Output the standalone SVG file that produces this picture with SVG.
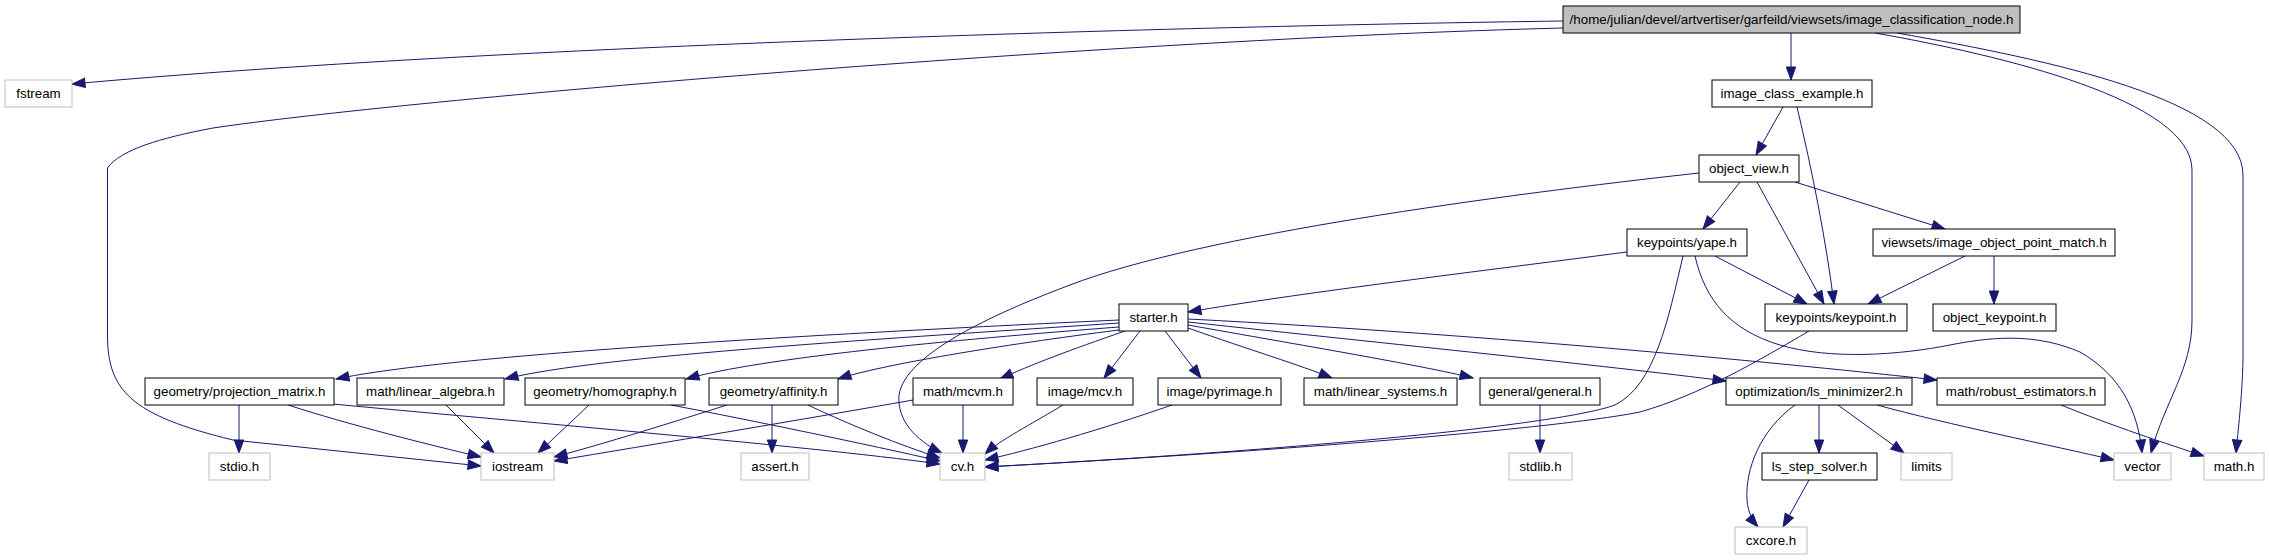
<svg xmlns="http://www.w3.org/2000/svg" width="2269" height="560" viewBox="0 0 2269 560">
<style>
.n rect{fill:#fff;stroke:#000;stroke-width:1}
.x rect{fill:#fff;stroke:#bfbfbf;stroke-width:1}
.m rect{fill:#bfbfbf;stroke:#000;stroke-width:1}
text{font-family:"Liberation Sans",Arial,Helvetica,sans-serif;font-size:13.33px;fill:#000;text-anchor:middle}
.e path{fill:none;stroke:#191970;stroke-width:1;marker-end:url(#a)}
</style>
<defs>
<marker id="a" markerUnits="userSpaceOnUse" markerWidth="14" markerHeight="10" refX="13" refY="4.7" orient="auto" overflow="visible">
<path d="M0,0 L13,4.7 L0,9.4 z" fill="#191970" stroke="#191970" stroke-width="1"/>
</marker>
</defs>
<rect width="2269" height="560" fill="#fff"/>
<g class="e" id="edges">
<path d="M1563,21 C1200,26 500,45 72,84"/>
<path d="M1563,28 C1100,40 400,100 213,128 C160,138 120,150 107.5,168 L107.5,335 C107.5,390 130,415 233,440 L481,466"/>
<path d="M1791,33 L1791,80"/>
<path d="M1875,33 C2000,55 2192,100 2192,170 L2192,320 C2192,370 2165,400 2151,453"/>
<path d="M1897,33 C2050,60 2243,100 2243,175 L2243,360 C2242,400 2238,430 2236,453"/>
<path d="M1783,107 L1756,155"/>
<path d="M1797,107 C1812,170 1826,240 1834,304"/>
<path d="M1699,173 C1500,195 1200,235 1070,285 C990,315 905,355 899,395 C897,420 915,440 942,453"/>
<path d="M1740,182 L1703,229"/>
<path d="M1757,182 L1824,304"/>
<path d="M1795,182 L1945,229"/>
<path d="M1627,252 C1450,275 1300,293 1188,312"/>
<path d="M1715,256 L1807,304"/>
<path d="M1683,256 C1668,320 1655,385 1615,405 C1560,425 1300,450 985,467"/>
<path d="M1695,256 C1705,300 1730,330 1780,345 C1830,360 1900,355 1950,345 C2000,335 2040,335 2080,352 C2120,375 2138,410 2142,453"/>
<path d="M1965,256 L1868,304"/>
<path d="M1994,256 L1994,304"/>
<path d="M1809,331 C1760,360 1700,395 1640,412 C1560,428 1300,450 985,467"/>
<path d="M1119,320 C800,335 450,355 336,379"/>
<path d="M1119,323 C900,338 600,355 505,379"/>
<path d="M1119,327 C950,340 760,358 686,379"/>
<path d="M1119,330 C1000,345 880,365 838,379"/>
<path d="M1125,331 C1070,350 1030,365 1000,379"/>
<path d="M1140,331 L1104,378"/>
<path d="M1165,331 L1201,378"/>
<path d="M1188,328 C1250,350 1300,365 1332,378"/>
<path d="M1188,325 C1300,345 1420,365 1473,378"/>
<path d="M1188,322 C1400,345 1600,365 1726,381"/>
<path d="M1188,319 C1500,335 1800,365 1937,380"/>
<path d="M239,405 L239,453"/>
<path d="M288,405 C350,425 430,445 481,457"/>
<path d="M333,404 C500,420 800,445 940,464"/>
<path d="M446,405 L494,453"/>
<path d="M589,405 L538,453"/>
<path d="M671,405 C750,420 870,445 940,461"/>
<path d="M727,405 C680,420 600,445 554,457"/>
<path d="M772,405 L772,453"/>
<path d="M808,405 C850,425 900,445 940,458"/>
<path d="M913,400 C800,420 650,445 554,461"/>
<path d="M963,405 L963,453"/>
<path d="M1063,405 C1030,425 1000,440 985,454"/>
<path d="M1172,405 C1100,430 1030,450 985,460"/>
<path d="M1540,405 L1540,453"/>
<path d="M1795,405 C1760,430 1745,470 1747,500 C1748,512 1752,520 1758,527"/>
<path d="M1819,405 L1819,453"/>
<path d="M1838,405 L1904,453"/>
<path d="M1877,405 C1950,425 2050,445 2114,460"/>
<path d="M2061,405 C2110,425 2170,445 2204,456"/>
<path d="M1809,480 L1783,527"/>
</g>
<g id="node_main" class="m"><rect x="1563" y="6" width="457" height="27"/><text x="1791.5" y="24">/home/julian/devel/artvertiser/garfeild/viewsets/image_classification_node.h</text></g>
<g id="node_fstream" class="x"><rect x="5" y="80" width="67" height="27"/><text x="38.5" y="98">fstream</text></g>
<g id="node_image_class_example" class="n"><rect x="1712" y="80" width="160" height="27"/><text x="1792" y="98">image_class_example.h</text></g>
<g id="node_object_view" class="n"><rect x="1699" y="155" width="100" height="27"/><text x="1749" y="173">object_view.h</text></g>
<g id="node_yape" class="n"><rect x="1627" y="229" width="120" height="27"/><text x="1687" y="247">keypoints/yape.h</text></g>
<g id="node_iopm" class="n"><rect x="1873" y="229" width="242" height="27"/><text x="1994" y="247">viewsets/image_object_point_match.h</text></g>
<g id="node_keypoint" class="n"><rect x="1765" y="304" width="142" height="27"/><text x="1836" y="322">keypoints/keypoint.h</text></g>
<g id="node_object_keypoint" class="n"><rect x="1933" y="304" width="123" height="27"/><text x="1994.5" y="322">object_keypoint.h</text></g>
<g id="node_starter" class="n"><rect x="1119" y="304" width="69" height="27"/><text x="1153.5" y="322">starter.h</text></g>
<g id="node_projection_matrix" class="n"><rect x="145" y="378" width="189" height="27"/><text x="239.5" y="396">geometry/projection_matrix.h</text></g>
<g id="node_linear_algebra" class="n"><rect x="357" y="378" width="147" height="27"/><text x="430.5" y="396">math/linear_algebra.h</text></g>
<g id="node_homography" class="n"><rect x="525" y="378" width="160" height="27"/><text x="605" y="396">geometry/homography.h</text></g>
<g id="node_affinity" class="n"><rect x="709" y="378" width="129" height="27"/><text x="773.5" y="396">geometry/affinity.h</text></g>
<g id="node_mcvm" class="n"><rect x="913" y="378" width="100" height="27"/><text x="963" y="396">math/mcvm.h</text></g>
<g id="node_mcv" class="n"><rect x="1037" y="378" width="96" height="27"/><text x="1085" y="396">image/mcv.h</text></g>
<g id="node_pyrimage" class="n"><rect x="1158" y="378" width="123" height="27"/><text x="1219.5" y="396">image/pyrimage.h</text></g>
<g id="node_linear_systems" class="n"><rect x="1304" y="378" width="153" height="27"/><text x="1380.5" y="396">math/linear_systems.h</text></g>
<g id="node_general" class="n"><rect x="1480" y="378" width="120" height="27"/><text x="1540" y="396">general/general.h</text></g>
<g id="node_ls_minimizer2" class="n"><rect x="1726" y="378" width="186" height="27"/><text x="1819" y="396">optimization/ls_minimizer2.h</text></g>
<g id="node_robust" class="n"><rect x="1937" y="378" width="168" height="27"/><text x="2021" y="396">math/robust_estimators.h</text></g>
<g id="node_stdio" class="x"><rect x="209" y="453" width="61" height="27"/><text x="239.5" y="471">stdio.h</text></g>
<g id="node_iostream" class="x"><rect x="481" y="453" width="73" height="27"/><text x="517.5" y="471">iostream</text></g>
<g id="node_assert" class="x"><rect x="741" y="453" width="68" height="27"/><text x="775" y="471">assert.h</text></g>
<g id="node_cv" class="x"><rect x="940" y="453" width="45" height="27"/><text x="962.5" y="471">cv.h</text></g>
<g id="node_stdlib" class="x"><rect x="1509" y="453" width="63" height="27"/><text x="1540.5" y="471">stdlib.h</text></g>
<g id="node_ls_step_solver" class="n"><rect x="1762" y="453" width="115" height="27"/><text x="1819.5" y="471">ls_step_solver.h</text></g>
<g id="node_limits" class="x"><rect x="1901" y="453" width="51" height="27"/><text x="1926.5" y="471">limits</text></g>
<g id="node_vector" class="x"><rect x="2114" y="453" width="57" height="27"/><text x="2142.5" y="471">vector</text></g>
<g id="node_math" class="x"><rect x="2204" y="453" width="60" height="27"/><text x="2234" y="471">math.h</text></g>
<g id="node_cxcore" class="x"><rect x="1735" y="527" width="72" height="27"/><text x="1771" y="545">cxcore.h</text></g>
</svg>
